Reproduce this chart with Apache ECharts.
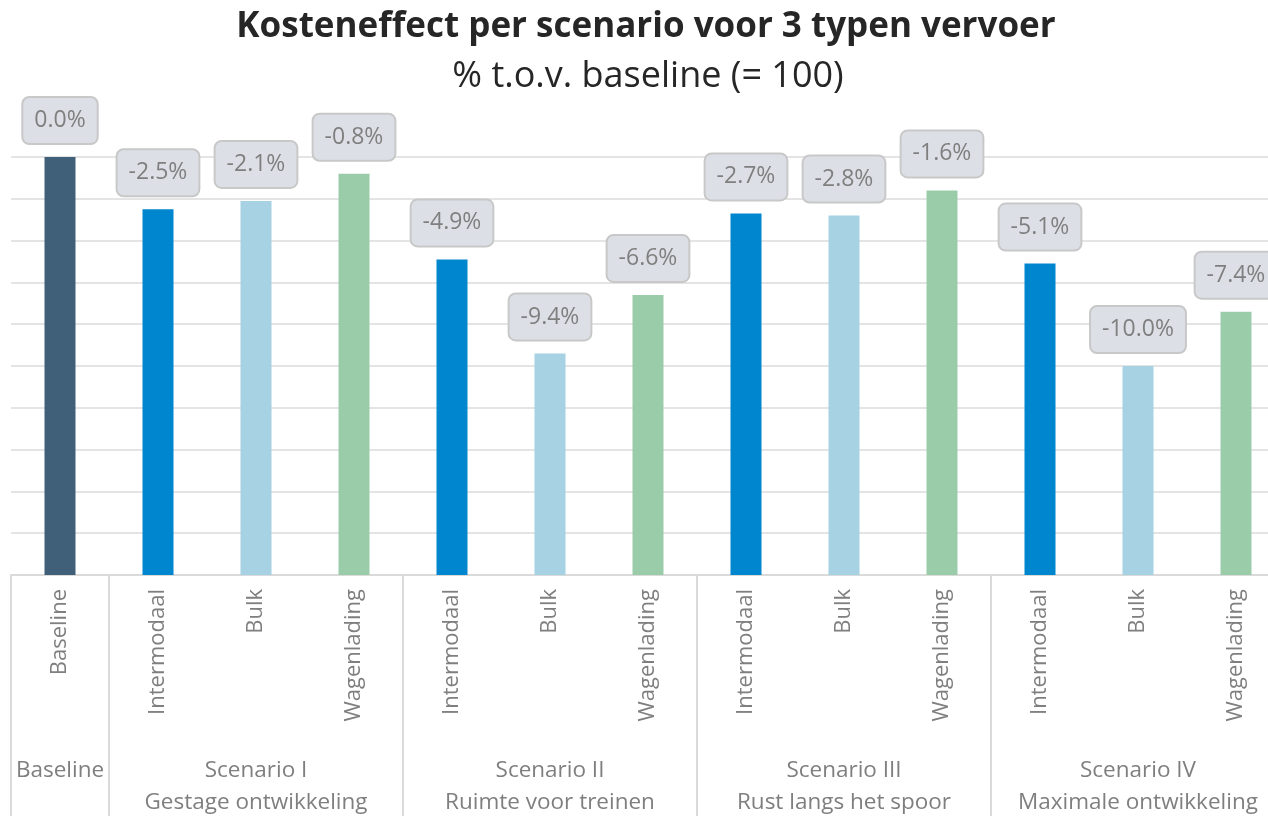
<!DOCTYPE html>
<html>
<head>
<meta charset="utf-8">
<title>Kosteneffect per scenario</title>
<script src="https://cdn.jsdelivr.net/npm/echarts@6/dist/echarts.min.js"></script>
<style>
  html, body { margin: 0; padding: 0; background: #fff; }
  #chart { width: 1268px; height: 816px; }
</style>
</head>
<body>
<div id="chart"></div>
<script>
// categories (one bar per type within each scenario)
const typeLabels = ['Baseline', 'Intermodaal', 'Bulk', 'Wagenlading', 'Intermodaal', 'Bulk', 'Wagenlading',
  'Intermodaal', 'Bulk', 'Wagenlading', 'Intermodaal', 'Bulk', 'Wagenlading']
// cost effect in % vs baseline (= 100)
const effect = [0.0, -2.5, -2.1, -0.8, -4.9, -9.4, -6.6, -2.7, -2.8, -1.6, -5.1, -10.0, -7.4]
// scenario groups: label, first category index, size
const groupLabels = ['Baseline', 'Scenario I\nGestage ontwikkeling', 'Scenario II\nRuimte voor treinen',
  'Scenario III\nRust langs het spoor', 'Scenario IV\nMaximale ontwikkeling']
const groupStart = [0, 1, 4, 7, 10]
const groupSize = [1, 3, 3, 3, 3]

const typeColors = {
  Baseline: '#40607A',
  Intermodaal: '#0086CE',
  Bulk: '#A6D2E3',
  Wagenlading: '#9BCCAA'
}

const FONT = '"Open Sans", "Noto Sans", sans-serif'
const GREY = '#7f7f7f'
const LINE = '#dadada'

// label for the group axis sits in the middle category of each group
const groupCenterLabel = {}
groupStart.forEach((s, i) => {
  groupCenterLabel[s + Math.floor(groupSize[i] / 2)] = groupLabels[i]
})

const chart = echarts.init(document.getElementById('chart'))

chart.setOption({
  animation: false,
  title: [
    {
      text: 'Kosteneffect per scenario voor 3 typen vervoer',
      left: 641,
      top: 5,
      textAlign: 'center',
      textStyle: { fontFamily: FONT, fontSize: 35, fontWeight: 'bold', color: '#262626' }
    },
    {
      text: '% t.o.v. baseline (= 100)',
      left: 643,
      top: 54,
      textAlign: 'center',
      textStyle: { fontFamily: FONT, fontSize: 36, fontWeight: 'normal', color: '#262626' }
    }
  ],
  grid: {
    left: 11, top: 157, width: 1274, height: 418,
    containLabel: false,
    outerBoundsMode: 'none'
  },
  xAxis: [
    {
      type: 'category',
      data: typeLabels,
      axisLine: { show: true, lineStyle: { color: LINE, width: 2 } },
      axisTick: { show: false },
      axisLabel: {
        interval: 0,
        rotate: 90,
        margin: 14,
        fontFamily: FONT,
        fontSize: 22,
        color: GREY
      }
    },
    {
      type: 'category',
      data: typeLabels,
      position: 'bottom',
      axisLine: { show: false },
      axisTick: {
        show: true,
        interval: (i) => groupStart.includes(i),
        length: 260,
        lineStyle: { color: LINE, width: 2 }
      },
      axisLabel: {
        interval: 0,
        margin: 180,
        fontFamily: FONT,
        fontSize: 22.5,
        lineHeight: 32,
        color: GREY,
        formatter: (v, i) => groupCenterLabel[i] || ''
      }
    }
  ],
  yAxis: {
    type: 'value',
    min: 80,
    max: 100,
    interval: 2,
    axisLabel: { show: false },
    axisLine: { show: false },
    axisTick: { show: false },
    splitLine: { lineStyle: { color: '#e4e4e4', width: 2 } }
  },
  series: [
    {
      type: 'bar',
      barWidth: 31,
      data: effect.map((e, i) => ({
        value: 100 + e,
        itemStyle: { color: typeColors[typeLabels[i]] }
      })),
      label: {
        show: true,
        position: 'top',
        distance: 14,
        formatter: (p) => effect[p.dataIndex].toFixed(1) + '%',
        fontFamily: FONT,
        fontSize: 23,
        lineHeight: 25,
        color: GREY,
        backgroundColor: '#dce0e6',
        borderColor: '#c8c8c8',
        borderWidth: 2,
        borderRadius: 6,
        padding: [10, 11, 10, 11]
      }
    }
  ]
})
</script>
</body>
</html>
